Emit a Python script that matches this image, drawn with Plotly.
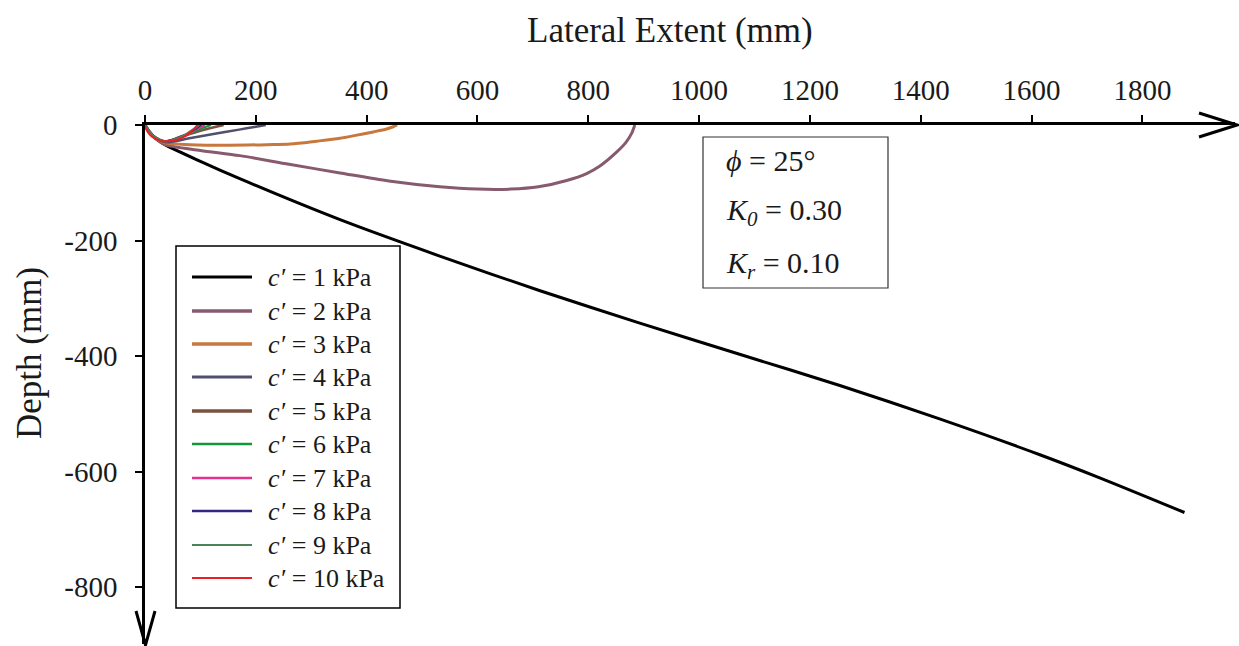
import plotly.graph_objects as go

# ---- data: failure-surface traces (lateral extent x, depth y, in mm) ----
labels = ["1", "2", "3", "4", "5", "6", "7", "8", "9", "10"]
colors = ["#000000", "#875A6E", "#C8783C", "#50506E", "#7D5041",
          "#14963C", "#E6328C", "#322882", "#50825A", "#EB1E28"]
widths = [3, 3, 3, 2.5, 2.5, 2, 2, 2, 2, 2]

x_c1 = [0, 8, 20, 36, 100, 171, 352, 532, 713, 893, 1073, 1254, 1434, 1615, 1723, 1876]
y_c1 = [0, -12, -24, -34, -63, -93, -164, -227, -287, -343, -397, -451, -509, -571, -611, -671]

x_c2 = [0, 8, 20, 36, 100, 171, 260, 352, 440, 532, 600, 660, 710, 761, 797, 821, 851, 868, 878, 884]
y_c2 = [0, -12, -24, -34, -44, -53, -68, -83, -97, -107, -111, -111, -107, -96, -84, -71, -47, -30, -15, 0]

x_c3 = [0, 8, 20, 36, 81, 150, 220, 262, 310, 352, 380, 412, 436, 448, 455]
y_c3 = [0, -12, -23, -31, -34, -35, -34, -33, -28, -23, -18, -12, -7, -3, 0]

x_c4 = [0, 8, 20, 38, 80, 126, 170, 200, 218]
y_c4 = [0, -12, -23, -30, -23, -15, -8, -3, 0]

x_c5 = [0, 8, 20, 36, 65, 90, 115, 132, 142]
y_c5 = [0, -12, -23, -29, -20, -13, -6, -2, 0]

x_c6 = [0, 8, 20, 36, 55, 75, 95, 110, 119]
y_c6 = [0, -12, -23, -28, -24, -17, -9, -3, 0]

x_c7 = [0, 8, 20, 36, 52, 70, 88, 100, 108]
y_c7 = [0, -12, -23, -28, -25, -19, -10, -4, 0]

x_c8 = [0, 8, 20, 36, 52, 68, 84, 95, 102]
y_c8 = [0, -11, -22, -28, -25, -19, -11, -4, 0]

x_c9 = [0, 8, 20, 36, 52, 66, 80, 91, 98]
y_c9 = [0, -11, -22, -28, -25, -20, -12, -5, 0]

x_c10 = [0, 1, 5, 12, 27, 39, 57, 75, 87, 93, 94]
y_c10 = [0, -4, -12, -20, -27, -28, -26, -18, -8, -2, 0]

xs = [x_c1, x_c2, x_c3, x_c4, x_c5, x_c6, x_c7, x_c8, x_c9, x_c10]
ys = [y_c1, y_c2, y_c3, y_c4, y_c5, y_c6, y_c7, y_c8, y_c9, y_c10]

x_ticks = [0, 200, 400, 600, 800, 1000, 1200, 1400, 1600, 1800]
y_ticks = [0, -200, -400, -600, -800]
y_tick_text = ["0", "-200", "-400", "-600", "-800"]

# ---- page geometry ----
W, H = 1239, 646
ML, MR, MT, MB = 145, 4, 125, 2
PW, PH = W - ML - MR, H - MT - MB
X_PER_MM = 0.5541
Y_PER_MM = 0.5775

SERIF = "Liberation Serif, Times New Roman, serif"
INK = "#1a1a1a"


def px(xp):
    return (xp - ML) / PW


def py(yp):
    return 1 - (yp - MT) / PH


fig = go.Figure()
for lab, col, w, xv, yv in zip(labels, colors, widths, xs, ys):
    fig.add_trace(go.Scatter(
        x=xv, y=yv, mode="lines", name=f"c′ = {lab} kPa",
        line=dict(color=col, width=w, shape="spline", smoothing=0.8),
        showlegend=False, hoverinfo="skip"))

shapes = []
annotations = []

# arrow heads on both axes
shapes.append(dict(type="path", xref="paper", yref="paper",
                   path=f"M {px(1199)},{py(113)} L {px(1237)},{py(125)} L {px(1199)},{py(137)}",
                   line=dict(color="black", width=3)))
shapes.append(dict(type="path", xref="paper", yref="paper",
                   path=f"M {px(136)},{py(611)} L {px(145.5)},{py(645)} L {px(155)},{py(611)}",
                   line=dict(color="black", width=3)))

# axis titles
annotations.append(dict(text="Lateral Extent (mm)", xref="paper", yref="paper",
                        x=px(670), y=py(31), xanchor="center", yanchor="middle",
                        showarrow=False,
                        font=dict(family=SERIF, size=35, color=INK)))
annotations.append(dict(text="Depth (mm)", xref="paper", yref="paper",
                        x=px(29), y=py(353), xanchor="center", yanchor="middle",
                        showarrow=False, textangle=-90,
                        font=dict(family=SERIF, size=35, color=INK)))

# legend panel
shapes.append(dict(type="rect", xref="paper", yref="paper",
                   x0=px(176), x1=px(400), y0=py(246), y1=py(608),
                   line=dict(color="black", width=1.5), fillcolor="white"))
row_y = [277, 311, 344, 377, 411, 444, 478, 511, 545, 578]
leg_w = [3, 3.5, 3.5, 3, 3.5, 2.5, 2.5, 2.5, 2, 2]
for lab, col, lw, ry in zip(labels, colors, leg_w, row_y):
    shapes.append(dict(type="line", xref="paper", yref="paper",
                       x0=px(192), x1=px(252), y0=py(ry), y1=py(ry),
                       line=dict(color=col, width=lw)))
    annotations.append(dict(text=f"<i>c′</i> = {lab} kPa", xref="paper", yref="paper",
                            x=px(266), y=py(ry), xanchor="left", yanchor="middle",
                            showarrow=False,
                            font=dict(family=SERIF, size=26, color=INK)))

# parameter panel
shapes.append(dict(type="rect", xref="paper", yref="paper",
                   x0=px(703), x1=px(888), y0=py(137), y1=py(288),
                   line=dict(color="#333333", width=1.2), fillcolor="white"))
params = [("<i>ϕ</i> = 25°", 161),
          ("<i>K<sub>0</sub></i> = 0.30", 212),
          ("<i>K<sub>r</sub></i> = 0.10", 265)]
for txt, ry in params:
    annotations.append(dict(text=txt, xref="paper", yref="paper",
                            x=px(724), y=py(ry), xanchor="left", yanchor="middle",
                            showarrow=False,
                            font=dict(family=SERIF, size=30, color=INK)))

fig.update_layout(
    width=W, height=H,
    margin=dict(l=ML, r=MR, t=MT, b=MB, autoexpand=False),
    paper_bgcolor="white", plot_bgcolor="white",
    showlegend=False,
    shapes=shapes, annotations=annotations,
    xaxis=dict(range=[0, PW / X_PER_MM], side="top", showgrid=False, zeroline=False,
               showline=True, linecolor="black", linewidth=2.5,
               ticks="outside", ticklen=7, tickwidth=2, tickcolor="black",
               tickvals=x_ticks, ticklabelstandoff=4,
               tickfont=dict(family=SERIF, size=29, color=INK)),
    yaxis=dict(range=[-PH / Y_PER_MM, 0], showgrid=False, zeroline=False,
               showline=True, linecolor="black", linewidth=2.5,
               ticks="outside", ticklen=7, tickwidth=2, tickcolor="black",
               tickvals=y_ticks, ticktext=y_tick_text, ticklabelstandoff=12,
               tickfont=dict(family=SERIF, size=29, color=INK)),
)

fig.write_html("out.html")
